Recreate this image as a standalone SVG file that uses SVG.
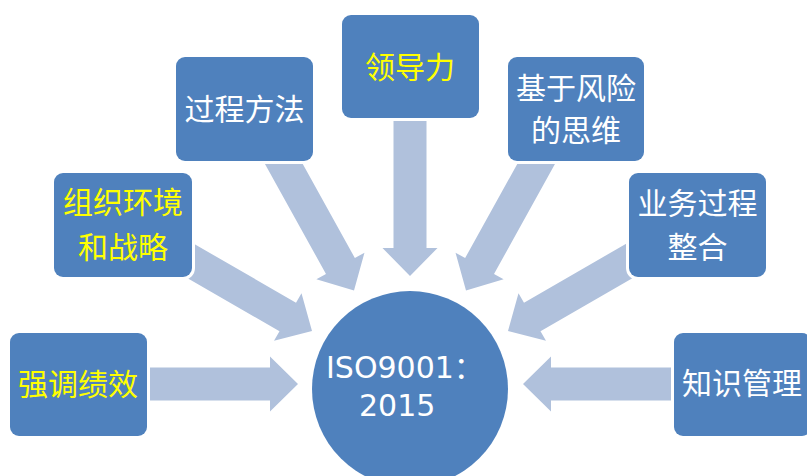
<svg xmlns="http://www.w3.org/2000/svg" xmlns:xlink="http://www.w3.org/1999/xlink" width="807" height="476" viewBox="0 0 807 476">
<style>
.box{fill:#4F81BD;stroke:#FFFFFF;stroke-width:6;paint-order:stroke}
.arr{fill:#B0C1DC}
.t{font-family:"Noto Sans CJK SC","Noto Sans",sans-serif;font-size:30px;text-anchor:middle}
.w{fill:#FFFFFF}
.y{fill:#FFFF00}
.iso{font-family:"DejaVu Sans","Noto Sans CJK SC",sans-serif;font-size:30px;fill:#FFFFFF}
</style>
<defs>
<path id="arrow" d="M-200,-16.5 H-28 V-27.5 L0,0 L-28,27.5 V16.5 H-200 Z"/>
</defs>
<rect width="807" height="476" fill="#FFFFFF"/>
<g id="connectors" class="arr">
<use xlink:href="#arrow" href="#arrow" transform="translate(298,384)"/>
<use xlink:href="#arrow" href="#arrow" transform="translate(312,331) rotate(30)"/>
<use xlink:href="#arrow" href="#arrow" transform="translate(354,290.5) rotate(61)"/>
<use xlink:href="#arrow" href="#arrow" transform="translate(410,276) rotate(90)"/>
<use xlink:href="#arrow" href="#arrow" transform="translate(466,290.5) rotate(119)"/>
<use xlink:href="#arrow" href="#arrow" transform="translate(508,331) rotate(150)"/>
<use xlink:href="#arrow" href="#arrow" transform="translate(523,384) rotate(180)"/>
</g>
<g id="node-performance">
<rect class="box" x="10" y="333" width="137" height="103" rx="9"/>
<text class="t y" x="78" y="395">强调绩效</text>
</g>
<g id="node-context">
<rect class="box" x="54" y="173" width="138" height="104" rx="9"/>
<text class="t y" x="123" y="213">组织环境</text>
<text class="t y" x="123" y="258">和战略</text>
</g>
<g id="node-process">
<rect class="box" x="176" y="57" width="137" height="104" rx="9"/>
<text class="t w" x="244.5" y="120">过程方法</text>
</g>
<g id="node-leadership">
<rect class="box" x="342" y="15" width="137" height="103" rx="9"/>
<text class="t y" x="410" y="78">领导力</text>
</g>
<g id="node-risk">
<rect class="box" x="508" y="57" width="136" height="104" rx="9"/>
<text class="t w" x="576" y="98.5">基于风险</text>
<text class="t w" x="576" y="141">的思维</text>
</g>
<g id="node-integration">
<rect class="box" x="629" y="173" width="137" height="104" rx="9"/>
<text class="t w" x="697.5" y="214">业务过程</text>
<text class="t w" x="697.5" y="258">整合</text>
</g>
<g id="node-knowledge">
<rect class="box" x="674" y="333" width="137" height="103" rx="9"/>
<text class="t w" x="742" y="394">知识管理</text>
</g>
<g id="node-iso">
<circle cx="410" cy="389" r="98" fill="#4F81BD"/>
<text class="iso" x="326" y="378">ISO9001：</text>
<text class="iso" x="359" y="416">2015</text>
</g>
</svg>
